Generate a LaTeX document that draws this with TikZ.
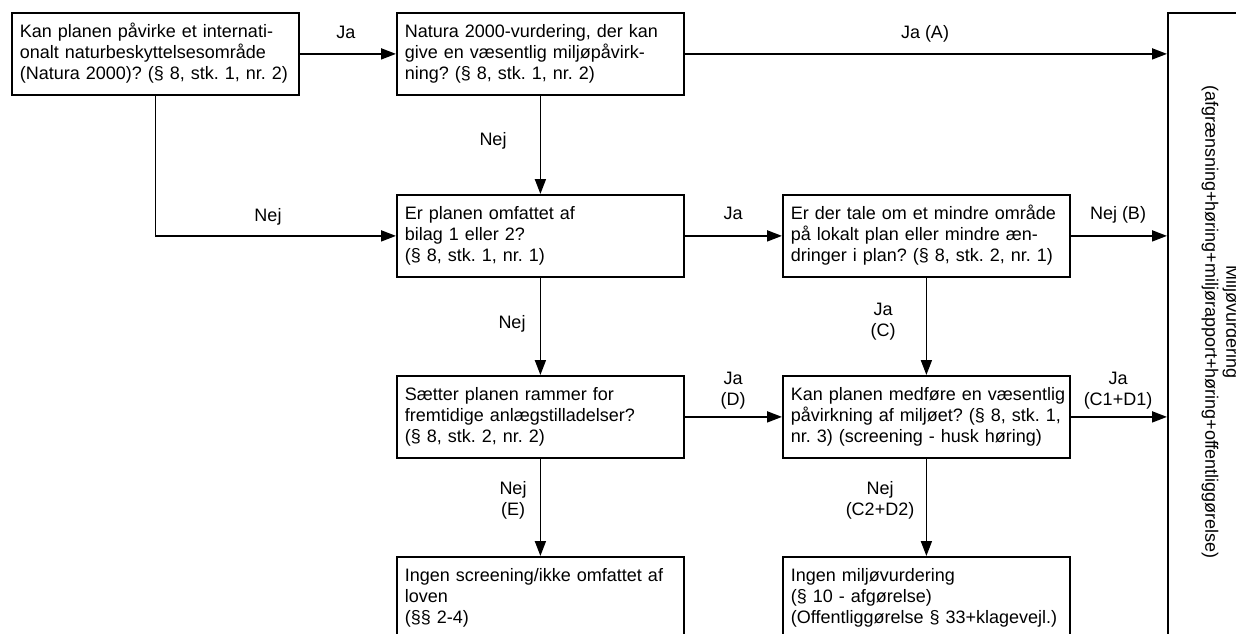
\documentclass[tikz,border=0pt]{standalone}
\usepackage{fontspec}
\setmainfont{Liberation Sans}
\usetikzlibrary{arrows.meta}
\newcommand{\lnx}[1]{\mbox{#1}}
\begin{document}
\begin{tikzpicture}[x=1pt,y=-1pt,
  every node/.style={font=\fontsize{18pt}{21pt}\selectfont\frenchspacing},
  qbox/.style={draw, line width=1.8pt, anchor=north west, text width=271pt,
    inner xsep=8pt, inner ysep=9.5pt, text height=14.7pt, text depth=48.3pt, align=left},
  endbox/.style={qbox, text depth=140pt},
  conn/.style={line width=1.8pt, -{Triangle[length=15pt,width=11pt]}},
  lbl/.style={inner sep=0pt, align=center}
]
\useasboundingbox (0,0) rectangle (1236,634);
\clip (0,0) rectangle (1236,634);
\fill[white] (0,0) rectangle (1236,634);

\node[qbox] (b1) at (11,12) {\lnx{Kan planen påvirke et internati-}\\\lnx{onalt naturbeskyttelsesområde}\\\lnx{(Natura 2000)? (§ 8, stk. 1, nr. 2)}};
\node[qbox] (b2) at (396,12) {\lnx{Natura 2000-vurdering, der kan}\\\lnx{give en væsentlig miljøpåvirk-}\\\lnx{ning? (§ 8, stk. 1, nr. 2)}};
\node[qbox] (b3) at (396,194) {\lnx{Er planen omfattet af}\\\lnx{bilag 1 eller 2?}\\\lnx{(§ 8, stk. 1, nr. 1)}};
\node[qbox] (b4) at (782,194) {\lnx{Er der tale om et mindre område}\\\lnx{på lokalt plan eller mindre æn-}\\\lnx{dringer i plan? (§ 8, stk. 2, nr. 1)}};
\node[qbox] (b5) at (396,375) {\lnx{Sætter planen rammer for}\\\lnx{fremtidige anlægstilladelser?}\\\lnx{(§ 8, stk. 2, nr. 2)}};
\node[qbox] (b6) at (782,375) {\lnx{Kan planen medføre en væsentlig}\\\lnx{påvirkning af miljøet? (§ 8, stk. 1,}\\\lnx{nr. 3) (screening - husk høring)}};
\node[endbox] (b7) at (396,556) {\lnx{Ingen screening/ikke omfattet af}\\\lnx{loven}\\\lnx{(§§ 2-4)}};
\node[endbox] (b8) at (782,556) {\lnx{Ingen miljøvurdering}\\\lnx{(§ 10 - afgørelse)}\\\lnx{(Offentliggørelse § 33+klagevejl.)}};
\node[draw, line width=1.8pt, anchor=north west, minimum width=150pt, minimum height=700pt, inner sep=0pt] (R) at (1167,12) {};
\node[rotate=-90, align=center, inner sep=0pt] (Rt) at (1220.5,322) {Miljøvurdering\\(afgrænsning+høring+miljørapport+høring+offentliggørelse)};

\draw[conn] (b1.east) -- (b2.west);
\draw[conn] (b2.east) -- (b2.east -| R.west);
\draw[conn] (b2.south) -- (b3.north);
\draw[conn] (b1.south) |- (b3.west);
\draw[conn] (b3.east) -- (b4.west);
\draw[conn] (b4.east) -- (b4.east -| R.west);
\draw[conn] (b3.south) -- (b5.north);
\draw[conn] (b4.south) -- (b6.north);
\draw[conn] (b5.east) -- (b6.west);
\draw[conn] (b6.east) -- (b6.east -| R.west);
\draw[conn] (b5.south) -- (b7.north);
\draw[conn] (b6.south) -- (b8.north);

\node[lbl, anchor=base] (l1) at (346,38) {Ja};
\node[lbl, anchor=base] (l2) at (925,38) {Ja (A)};
\node[lbl, anchor=base] (l3) at (493,145) {Nej};
\node[lbl, anchor=base] (l4) at (268,221) {Nej};
\node[lbl, anchor=base] (l5) at (733,219) {Ja};
\node[lbl, anchor=base] (l6) at (1118,219) {Nej (B)};
\node[lbl, anchor=base] (l7) at (512,328) {Nej};
\node[lbl] (l8) at (883,322) {Ja\\(C)};
\node[lbl] (l9) at (733,391) {Ja\\(D)};
\node[lbl] (l10) at (1118,391) {Ja\\(C1+D1)};
\node[lbl] (l11) at (513,500) {Nej\\(E)};
\node[lbl] (l12) at (880,500) {Nej\\(C2+D2)};
\end{tikzpicture}
\end{document}
